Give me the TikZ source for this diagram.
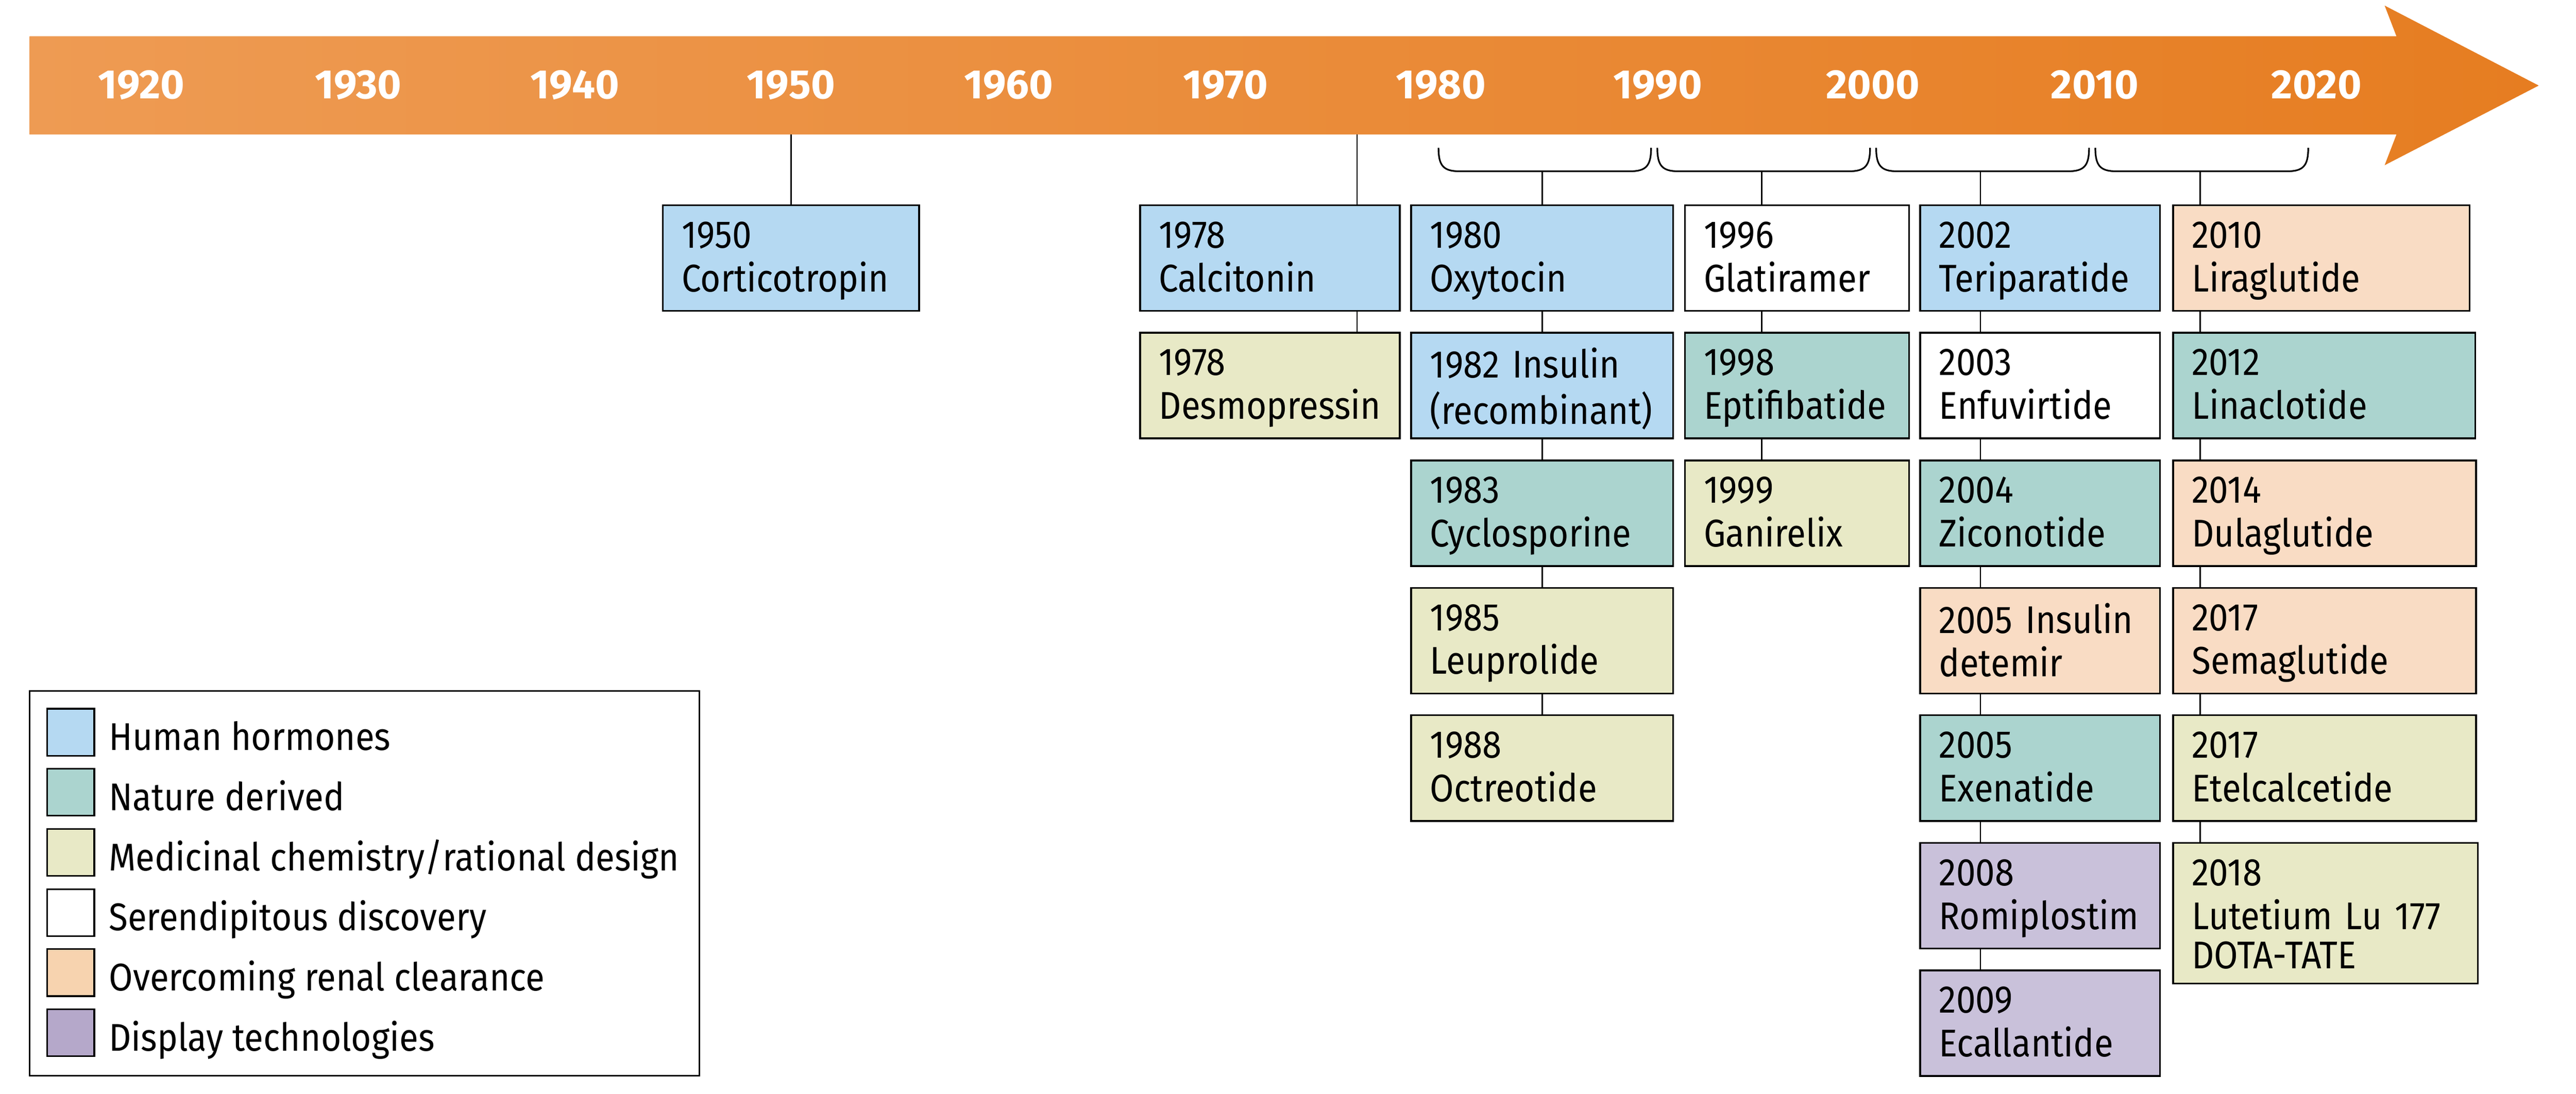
\documentclass[tikz,border=0pt]{standalone}
\usepackage{fontspec}
\setmainfont{Fira Sans}[FakeStretch=0.9]
\newfontfamily\yearfont{Fira Sans}[FakeStretch=1.0]
\usetikzlibrary{calc}
\definecolor{cblue}{HTML}{B5D9F2}
\definecolor{cteal}{HTML}{ABD4CF}
\definecolor{cyel}{HTML}{E8E9C6}
\definecolor{cpeach}{HTML}{F9DCC4}
\definecolor{cpurp}{HTML}{C9C1DA}
\definecolor{lpeach}{HTML}{F7D3AF}
\definecolor{lpurp}{HTML}{B5A8CA}
\definecolor{bandL}{HTML}{EE9B53}
\definecolor{bandR}{HTML}{E67D21}
\newcommand\boxfont{\fontsize{23.5}{24}\selectfont}
\newcommand\drug[7]{%
  \node[drugbox, fill=#5, minimum width=#3, minimum height=#4] (#1) at (#2) {};
  \node[drugtext] (#1t) at ([shift={(11.5,9.2)}]#1.north west) {#6\\\strut #7};}
\def\rA{125}\def\rB{202.6}\def\rC{280.3}\def\rD{357.9}\def\rE{435.5}\def\rF{513.2}\def\rG{590.8}
\def\bh{64.3}
\begin{document}
\begin{tikzpicture}[x=1pt,y=-1pt,
  every node/.style={inner sep=0pt, outer sep=0pt},
  drugbox/.style={draw=black, line width=1.1pt, rectangle, anchor=north west},
  drugtext/.style={anchor=north west, align=left, text width=200pt, font=\boxfont},
  link/.style={draw=black, line width=0.85pt},
  yearlab/.style={anchor=base, font=\yearfont\bfseries\fontsize{25}{25}\selectfont, text=white},
  swatch/.style={draw=black, line width=1pt, rectangle, anchor=north west, minimum width=28.6, minimum height=28.6},
  legtext/.style={anchor=base west, font=\boxfont},
  brace/.style={draw=black, line width=1pt}
]
\useasboundingbox (0,0) rectangle (1568,665.9);

% timeline arrow
\shade[left color=bandL, right color=bandR]
  (18,22.1) -- (1458.7,22.1) -- (1451.5,3.4) -- (1545.3,52.1) -- (1451.5,100.6)
  -- (1458.7,81.9) -- (18,81.9) -- cycle;
\foreach \yr/\xx in {1920/86,1930/218,1940/350,1950/481.5,1960/614,1970/746,1980/877,1990/1009,2000/1140,2010/1275,2020/1410}
  \node[yearlab] (y\yr) at (\xx,60) {\yr};

% decade brackets
\foreach \L/\R/\n in {875.6/1005/1,1008.8/1138.3/2,1142/1271.6/3,1275.4/1405/4}
  \draw[brace] (\L,90) .. controls (\L,101) and (\L+3,104.3) .. (\L+13,104.3)
    -- (\R-13,104.3) .. controls (\R-3,104.3) and (\R,101) .. (\R,90);
\coordinate (b1) at (938.8,104.3);
\coordinate (b2) at (1072.3,104.3);
\coordinate (b3) at (1205.5,104.3);
\coordinate (b4) at (1339.1,104.3);
\coordinate (t1950) at (481.5,81.9);
\coordinate (t1978) at (826,81.9);

% column 1950
\drug{cort}{403.5,\rA}{156}{\bh}{cblue}{\strut 1950}{Corticotropin}
% column 1978
\drug{calc}{694,\rA}{158}{\bh}{cblue}{\strut 1978}{Calcitonin}
\drug{desm}{694,\rB}{158}{\bh}{cyel}{\strut 1978}{Desmopressin}
% column 1980s
\drug{oxy}{859,\rA}{159.4}{\bh}{cblue}{\strut 1980}{Oxytocin}
\drug{ins}{859,\rB}{159.4}{\bh}{cblue}{\strut 1982 Insulin}{(recombinant)}
\drug{cyc}{859,\rC}{159.4}{\bh}{cteal}{\strut 1983}{Cyclosporine}
\drug{leu}{859,\rD}{159.4}{\bh}{cyel}{\strut 1985}{Leuprolide}
\drug{oct}{859,\rE}{159.4}{\bh}{cyel}{\strut 1988}{Octreotide}
% column 1990s
\drug{gla}{1025.6,\rA}{136.4}{\bh}{white}{\strut 1996}{Glatiramer}
\drug{ept}{1025.6,\rB}{136.4}{\bh}{cteal}{\strut 1998}{Eptifibatide}
\drug{gan}{1025.6,\rC}{136.4}{\bh}{cyel}{\strut 1999}{Ganirelix}
% column 2000s
\drug{ter}{1168.8,\rA}{146}{\bh}{cblue}{\strut 2002}{Teriparatide}
\drug{enf}{1168.8,\rB}{146}{\bh}{white}{\strut 2003}{Enfuvirtide}
\drug{zic}{1168.8,\rC}{146}{\bh}{cteal}{\strut 2004}{Ziconotide}
\drug{det}{1168.8,\rD}{146}{\bh}{cpeach}{\strut 2005 Insulin}{detemir}
\drug{exe}{1168.8,\rE}{146}{\bh}{cteal}{\strut 2005}{Exenatide}
\drug{rom}{1168.8,\rF}{146}{\bh}{cpurp}{\strut 2008}{Romiplostim}
\drug{eca}{1168.8,\rG}{146}{\bh}{cpurp}{\strut 2009}{Ecallantide}
% column 2010s
\drug{lir}{1322.7,\rA}{180.5}{\bh}{cpeach}{\strut 2010}{Liraglutide}
\drug{lin}{1322.7,\rB}{184}{\bh}{cteal}{\strut 2012}{Linaclotide}
\drug{dul}{1322.7,\rC}{184.5}{\bh}{cpeach}{\strut 2014}{Dulaglutide}
\drug{sem}{1322.7,\rD}{184.5}{\bh}{cpeach}{\strut 2017}{Semaglutide}
\drug{ete}{1322.7,\rE}{184.5}{\bh}{cyel}{\strut 2017}{Etelcalcetide}
\drug{lut}{1322.7,\rF}{185.5}{85.6}{cyel}{\strut 2018\\\strut Lutetium Lu 177}{DOTA-TATE}

% connectors
\draw[link] (t1950) -- (cort.north);
\draw[link] (t1978) -- (t1978 |- calc.north);
\draw[link] (t1978 |- calc.south) -- (t1978 |- desm.north);
\draw[link] (b1) -- (b1 |- oxy.north);
\draw[link] (b1 |- oxy.south) -- (b1 |- ins.north);
\draw[link] (b1 |- ins.south) -- (b1 |- cyc.north);
\draw[link] (b1 |- cyc.south) -- (b1 |- leu.north);
\draw[link] (b1 |- leu.south) -- (b1 |- oct.north);
\draw[link] (b2) -- (b2 |- gla.north);
\draw[link] (b2 |- gla.south) -- (b2 |- ept.north);
\draw[link] (b2 |- ept.south) -- (b2 |- gan.north);
\draw[link] (b3) -- (b3 |- ter.north);
\draw[link] (b3 |- ter.south) -- (b3 |- enf.north);
\draw[link] (b3 |- enf.south) -- (b3 |- zic.north);
\draw[link] (b3 |- zic.south) -- (b3 |- det.north);
\draw[link] (b3 |- det.south) -- (b3 |- exe.north);
\draw[link] (b3 |- exe.south) -- (b3 |- rom.north);
\draw[link] (b3 |- rom.south) -- (b3 |- eca.north);
\draw[link] (b4) -- (b4 |- lir.north);
\draw[link] (b4 |- lir.south) -- (b4 |- lin.north);
\draw[link] (b4 |- lin.south) -- (b4 |- dul.north);
\draw[link] (b4 |- dul.south) -- (b4 |- sem.north);
\draw[link] (b4 |- sem.south) -- (b4 |- ete.north);
\draw[link] (b4 |- ete.south) -- (b4 |- lut.north);

% legend
\node[draw=black, line width=1pt, rectangle, anchor=north west, minimum width=407.7, minimum height=234.3] (legend) at (18.1,420.6) {};
\foreach \k/\col/\txt in {0/cblue/Human hormones,1/cteal/Nature derived,2/cyel/Medicinal chemistry\slash rational design,3/white/Serendipitous discovery,4/lpeach/Overcoming renal clearance,5/lpurp/Display technologies}{
  \node[swatch, fill=\col] (sw\k) at (28.8,431.5+36.6*\k) {};
  \node[legtext] (lt\k) at ([shift={(37.5,25.3)}]sw\k.north west) {\txt};
}
\end{tikzpicture}
\end{document}
